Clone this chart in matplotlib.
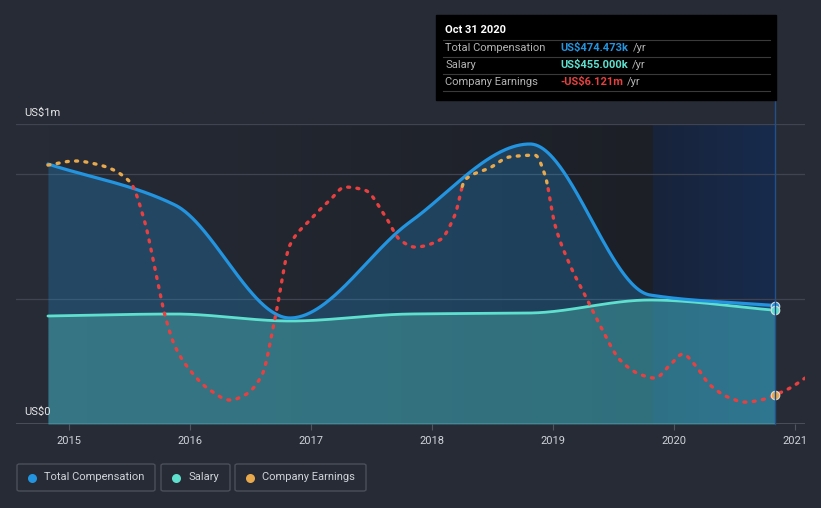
import numpy as np
import matplotlib
matplotlib.use("Agg")
import matplotlib.pyplot as plt
from matplotlib.colors import LinearSegmentedColormap
from matplotlib.patches import FancyBboxPatch, Rectangle
from matplotlib.lines import Line2D

plt.rcParams['font.family'] = ['Roboto', 'DejaVu Sans']

# --- data ---
comp_t = [2014.826, 2015.876, 2016.826, 2017.818, 2018.810, 2019.802, 2020.835]
comp_m = [1.040, 0.876, 0.424, 0.808, 1.120, 0.516, 0.474]

sal_t = [2014.826, 2015.876, 2016.826, 2017.818, 2018.810, 2019.802, 2020.835]
sal_m = [0.432, 0.440, 0.412, 0.440, 0.444, 0.496, 0.455]

earn_t = [2014.826, 2015.050, 2015.256, 2015.504, 2015.628, 2015.711, 2015.793, 2015.876,
          2016.000, 2016.165, 2016.331, 2016.455, 2016.595, 2016.702, 2016.826, 2016.992,
          2017.157, 2017.281, 2017.446, 2017.612, 2017.736, 2017.860, 2018.066, 2018.190,
          2018.273, 2018.479, 2018.645, 2018.851, 2018.934, 2019.017, 2019.140, 2019.264,
          2019.388, 2019.554, 2019.719, 2019.843, 2019.967, 2020.074, 2020.174, 2020.298,
          2020.463, 2020.587, 2020.752, 2020.835, 2020.959, 2021.083]
earn_m = [0.58, 0.70, 0.58, 0.09, -1.10, -2.45, -3.80, -4.70,
          -5.40, -5.98, -6.27, -6.12, -5.54, -3.90, -1.75, -1.02,
          -0.44, -0.06, -0.15, -0.90, -1.60, -1.81, -1.60, -0.87,
          0.15, 0.50, 0.82, 0.87, 0.29, -1.17, -2.33, -3.21,
          -4.08, -5.10, -5.52, -5.63, -5.25, -4.93, -5.25, -5.83,
          -6.21, -6.33, -6.24, -6.121, -5.92, -5.63]

years = [2015, 2016, 2017, 2018, 2019, 2020, 2021]

BG = '#262b36'
BLUE = '#2394df'
TEAL = '#5fe0cf'
RED = '#e84040'
ORANGE = '#e8a94d'


def pchip(x, y, xs):
    x = np.asarray(x, float)
    y = np.asarray(y, float)
    h = np.diff(x)
    d = np.diff(y) / h
    n = len(x)
    m = np.zeros(n)
    m[0], m[-1] = d[0], d[-1]
    for k in range(1, n - 1):
        if d[k - 1] * d[k] > 0:
            w1 = 2 * h[k] + h[k - 1]
            w2 = h[k] + 2 * h[k - 1]
            m[k] = (w1 + w2) / (w1 / d[k - 1] + w2 / d[k])
    idx = np.clip(np.searchsorted(x, xs) - 1, 0, n - 2)
    t = (xs - x[idx]) / h[idx]
    h00 = 2 * t**3 - 3 * t**2 + 1
    h10 = t**3 - 2 * t**2 + t
    h01 = -2 * t**3 + 3 * t**2
    h11 = t**3 - t**2
    return h00 * y[idx] + h10 * h[idx] * m[idx] + h01 * y[idx + 1] + h11 * h[idx] * m[idx + 1]


W, H = 821, 508
fig = plt.figure(figsize=(W / 100, H / 100), dpi=100, facecolor=BG)
ax = fig.add_axes([16 / W, 1 - 424 / H, (805 - 16) / W, 300 / H])
ax.set_facecolor('none')
x0, x1 = 2014.562, 2021.083
ax.set_xlim(x0, x1)
ax.set_ylim(0, 1.2)

# background gradients
grad = LinearSegmentedColormap.from_list('g', [BG, '#1c1f26'])
ax.imshow(np.linspace(0, 1, 256)[None, :], cmap=grad, aspect='auto',
          extent=[comp_t[0], 2019.828, 0, 1.2], zorder=0)
band = LinearSegmentedColormap.from_list('b', ['#18233a', '#172b4d'])
ax.imshow(np.linspace(0, 1, 256)[None, :], cmap=band, aspect='auto',
          extent=[2019.828, comp_t[-1], 0, 1.2], zorder=0)

for g in [0.5, 1.0, 1.2]:
    ax.axhline(g, color='#3f4450', lw=0.9, zorder=1)
ax.axhline(0, color='#50555f', lw=1.2, zorder=1)

xs = np.linspace(comp_t[0], comp_t[-1], 600)
cy = pchip(comp_t, comp_m, xs)
sy = pchip(sal_t, sal_m, xs)
ax.fill_between(xs, 0, cy, color=BLUE, alpha=0.28, lw=0, zorder=2)
ax.fill_between(xs, 0, sy, color=TEAL, alpha=0.3, lw=0, zorder=3)
ax.plot(xs, cy, color=BLUE, lw=2.3, zorder=5, solid_capstyle='round')
ax.plot(xs, sy, color=TEAL, lw=2.0, zorder=4, solid_capstyle='round')

# earnings on its own scale
ax2 = ax.twinx()
ax2.set_ylim(-6.968, 1.778)
ax2.axis('off')
ex = np.linspace(earn_t[0], earn_t[-1], 900)
ey = pchip(earn_t, earn_m, ex)
pos = np.where(ey >= 0, ey, np.nan)
neg = np.where(ey < 0, ey, np.nan)
for i in range(1, len(ey)):
    if (ey[i] >= 0) != (ey[i - 1] >= 0):
        pos[i - 1] = ey[i - 1]; pos[i] = ey[i]
dash = (0, (0.6, 2.2))
ax2.plot(ex, neg, color=RED, lw=2.4, ls=dash, dash_capstyle='round', zorder=6)
ax2.plot(ex, pos, color=ORANGE, lw=2.4, ls=dash, dash_capstyle='round', zorder=6)
ax2.scatter([earn_t[43]], [earn_m[43]], s=38, color=ORANGE, edgecolor='#dddddd', lw=0.8, zorder=8)
ax.scatter([comp_t[-1]], [comp_m[-1]], s=38, color=BLUE, edgecolor='#dddddd', lw=0.8, zorder=8)
ax.scatter([sal_t[-1]], [sal_m[-1]], s=38, color=TEAL, edgecolor='#dddddd', lw=0.8, zorder=8)

ax.set_xticks(years)
ax.set_xticklabels([str(y) for y in years], color='#d0d3d8', fontsize=8)
ax.tick_params(axis='x', length=4, color='#50555f', pad=5)
ax.set_yticks([])
for s in ax.spines.values():
    s.set_visible(False)


def fx(px):
    return px / W


def fy(py):
    return 1 - py / H


fig.text(fx(24), fy(113), 'US$1m', color='#e8e8e8', fontsize=8, va='center')
fig.text(fx(24), fy(412), 'US$0', color='#e8e8e8', fontsize=8, va='center')

# vertical marker line
fig.add_artist(Line2D([fx(775), fx(775)], [fy(100), fy(424)], color='#24508a', lw=1.0))

# tooltip
fig.add_artist(Rectangle((fx(436), fy(100)), fx(776) - fx(436), fy(15) - fy(100),
                         transform=fig.transFigure, color='#000000', zorder=10))
fig.text(fx(445), fy(30), 'Oct 31 2020', color='white', fontsize=8, fontweight='bold',
         va='center', zorder=11)
for yy in [40, 57, 74, 91]:
    fig.add_artist(Line2D([fx(443), fx(770)], [fy(yy), fy(yy)], color='#3a3a3a', lw=0.8, zorder=11))
rows = [('Total Compensation', 'US$474.473k', BLUE, 633),
        ('Salary', 'US$455.000k', TEAL, 632),
        ('Company Earnings', '-US$6.121m', RED, 627)]
for i, (lab, val, col, xr) in enumerate(rows):
    yy = 48 + 17 * i
    fig.text(fx(445), fy(yy), lab, color='#b4b4b4', fontsize=8, va='center', zorder=11)
    fig.text(fx(560), fy(yy), val, color=col, fontsize=8, fontweight='bold', va='center', zorder=11)
    fig.text(fx(xr), fy(yy), '/yr', color='#b4b4b4', fontsize=8, va='center', zorder=11)

# legend
items = [('Total Compensation', BLUE, 17, 155), ('Salary', TEAL, 161, 230),
         ('Company Earnings', ORANGE, 235, 366)]
for lab, col, l, r in items:
    fig.add_artist(FancyBboxPatch((fx(l), fy(491)), fx(r) - fx(l), fy(464) - fy(491),
                                  boxstyle='round,pad=0,rounding_size=0.003',
                                  transform=fig.transFigure, fc='none', ec='#4a4f5a', lw=1.0))
    fig.add_artist(Line2D([fx(l + 15)], [fy(477.5)], marker='o', ms=6.5, color=col, mew=0))
    fig.text(fx(l + 27), fy(477.5), lab, color='#d0d3d8', fontsize=8, va='center')

fig.savefig('out.png', dpi=100, facecolor=BG)
